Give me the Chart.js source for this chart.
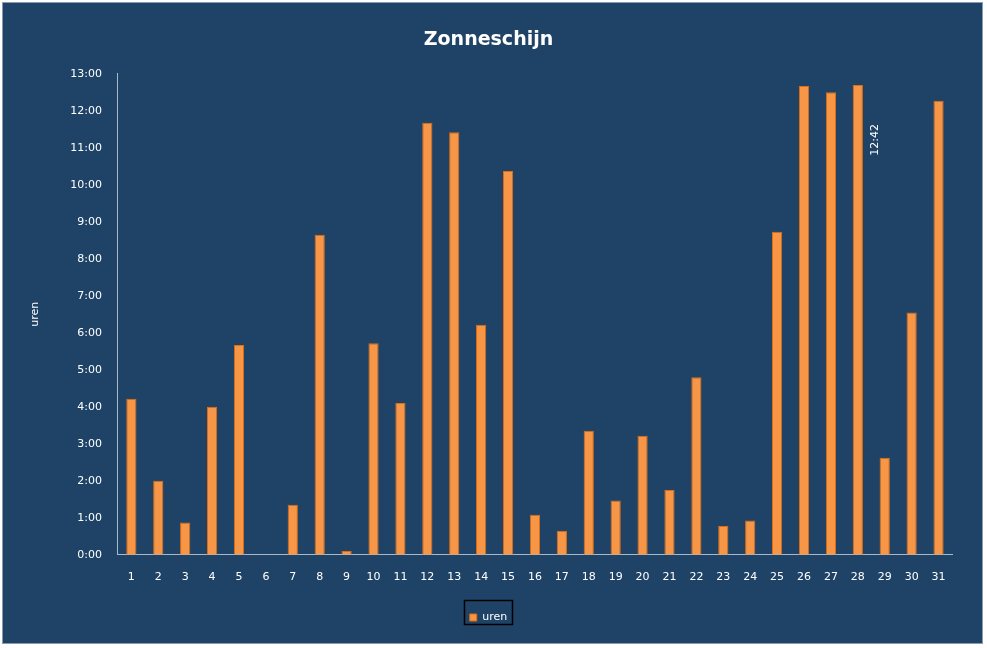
<!DOCTYPE html>
<html><head><meta charset="utf-8">
<script src="https://cdn.jsdelivr.net/npm/chart.js@4"></script>
<style>
html,body{margin:0;padding:0;background:#fff;}
#wrap{position:absolute;left:2px;top:2px;width:979px;height:640px;background:#1F4367;border:1px solid #8a9bb0;}
</style></head><body>
<div id="wrap"><canvas id="c" width="979" height="640"></canvas></div>
<script>
const categories = ['1','2','3','4','5','6','7','8','9','10','11','12','13','14','15','16','17','18','19','20','21','22','23','24','25','26','27','28','29','30','31'];
const uren = [4.22,2.0,0.87,4.0,5.67,0,1.35,8.65,0.1,5.72,4.1,11.68,11.42,6.22,10.37,1.08,0.65,3.35,1.47,3.22,1.75,4.8,0.78,0.93,8.73,12.67,12.5,12.7,2.62,6.55,12.27];
const yTicks = [0,1,2,3,4,5,6,7,8,9,10,11,12,13];
const labeledIndex = 27;
function fmt(h){const m=Math.round(h*60);return Math.floor(m/60)+':'+String(m%60).padStart(2,'0');}
const labelPlugin={id:'lbl',afterDatasetsDraw(ch){
  const bar=ch.getDatasetMeta(0).data[labeledIndex];const ctx=ch.ctx;
  ctx.save();ctx.translate(bar.x+17,bar.y+55);ctx.rotate(-Math.PI/2);
  ctx.fillStyle='#fff';ctx.font='11px "DejaVu Sans"';ctx.textAlign='center';ctx.textBaseline='middle';
  ctx.fillText(fmt(uren[labeledIndex]),0,0);ctx.restore();}};
new Chart(document.getElementById('c'),{type:'bar',
 data:{labels:categories,datasets:[{label:'uren',data:uren,backgroundColor:'#F79646',borderColor:'#E46C0A',borderWidth:1,barPercentage:0.38,categoryPercentage:1}]},
 options:{responsive:false,animation:false,
  layout:{padding:{left:22,right:30,top:12,bottom:10}},
  plugins:{title:{display:true,text:'Zonneschijn',color:'#fff',font:{family:'"DejaVu Sans"',size:19,weight:'bold'},padding:{top:14,bottom:22}},
   legend:{position:'bottom',labels:{color:'#fff',boxWidth:7,boxHeight:7,font:{family:'"DejaVu Sans"',size:11},padding:20}},
   tooltip:{enabled:false}},
  scales:{
   x:{grid:{display:false},border:{color:'#aab8c8'},ticks:{color:'#fff',padding:8,font:{family:'"DejaVu Sans"',size:11}}},
   y:{min:0,max:13,afterBuildTicks:(s)=>{s.ticks=yTicks.map(v=>({value:v}));},
    grid:{display:false},border:{color:'#aab8c8'},
    ticks:{color:'#fff',padding:8,font:{family:'"DejaVu Sans"',size:11},callback:v=>v+':00'},
    title:{display:true,text:'uren',color:'#fff',padding:{bottom:20},font:{family:'"DejaVu Sans"',size:11}}}}},
 plugins:[labelPlugin,{id:'leg',afterDraw(ch){const l=ch.legend;const ctx=ch.ctx;ctx.save();ctx.strokeStyle='#000';ctx.lineWidth=1.5;
   const w=48,h=24,cx=(l.left+l.right)/2,cy=(l.top+l.bottom)/2;ctx.strokeRect(cx-w/2,cy-h/2,w,h);ctx.restore();}}]
});
</script></body></html>
